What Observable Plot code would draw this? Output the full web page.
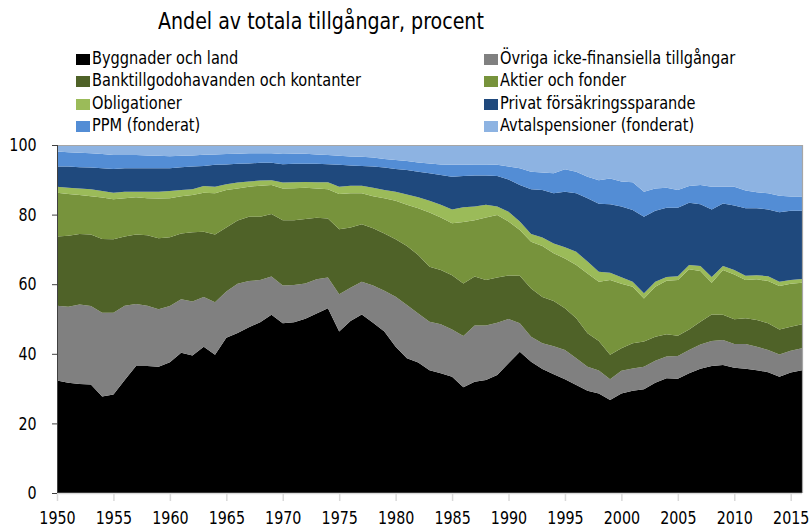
<!DOCTYPE html>
<html><head><meta charset="utf-8">
<script src="https://cdn.jsdelivr.net/npm/d3@7"></script>
<script src="https://cdn.jsdelivr.net/npm/@observablehq/plot@0.6"></script>
<style>
body{margin:0;background:#fff;width:811px;height:530px;overflow:hidden;position:relative;font-family:"Liberation Sans Narrow","DejaVu Sans Condensed","Roboto Condensed",sans-serif;}
#title{position:absolute;left:158px;top:8px;font-size:22.5px;color:#000;white-space:nowrap;transform:scaleX(0.94);transform-origin:left center;z-index:2;}
.leg{position:absolute;font-size:17.5px;white-space:nowrap;color:#000;line-height:20px;z-index:2;}
.leg .txt{display:inline-block;transform:scaleX(0.925);transform-origin:left center;}
.sw{display:inline-block;width:14px;height:11px;margin-right:2px;vertical-align:-1px;}
#chart{position:absolute;left:0;top:130px;z-index:1;}
</style></head><body>
<div id="title">Andel av totala tillgångar, procent</div>
<div id="legend"></div>
<div id="chart"></div>
<script>
const title = "Andel av totala tillgångar, procent";
const categories = [
  "Byggnader och land",
  "Övriga icke-finansiella tillgångar",
  "Banktillgodohavanden och kontanter",
  "Aktier och fonder",
  "Obligationer",
  "Privat försäkringssparande",
  "PPM (fonderat)",
  "Avtalspensioner (fonderat)"
];
const colors = ["#000000","#808080","#4f6228","#77933c","#9bbb59","#1f497d","#538dd5","#8db3e2"];
const years = d3.range(1950, 2017);
const xTicks = [1950,1955,1960,1965,1970,1975,1980,1985,1990,1995,2000,2005,2010,2015];
const yTicks = [0,20,40,60,80,100];

// Percent of total assets, 1950–2016
const byggnader = [32.3,31.7,31.3,31.2,27.7,28.3,32.5,36.5,36.5,36.3,37.6,40.3,39.5,42.0,39.7,44.6,46.0,47.6,49.1,51.2,48.8,49.1,50.1,51.6,53.1,46.4,49.4,51.3,48.9,46.4,42.0,38.7,37.5,35.3,34.4,33.4,30.4,32.0,32.5,33.9,37.3,40.6,37.7,35.6,34.1,32.7,31.0,29.4,28.6,26.7,28.6,29.4,29.8,31.7,33.0,32.8,34.4,35.7,36.5,36.8,36.0,35.7,35.3,34.7,33.4,34.6,35.3];
const ovriga = [21.5,21.8,22.9,22.5,24.1,23.5,21.3,17.8,17.3,16.5,16.1,15.4,15.5,14.3,15.1,13.3,14.1,13.3,12.1,11.0,10.8,10.7,10.1,9.8,8.8,10.7,9.6,9.4,10.7,11.7,14.4,15.3,14.1,13.9,14.1,13.6,14.7,16.1,15.6,15.0,12.7,8.2,7.2,7.4,8.1,8.4,7.7,6.9,6.6,6.0,6.5,6.4,6.5,6.3,6.2,6.6,6.7,7.0,7.2,7.2,6.8,7.1,6.7,6.4,6.4,6.3,6.3];
const bank = [19.9,20.4,20.2,20.6,21.2,21.1,19.9,20.0,20.3,20.4,19.8,18.9,19.9,18.8,19.5,18.4,18.2,18.5,18.2,18.0,18.8,18.6,18.5,17.7,17.0,18.7,17.3,16.5,16.5,16.5,16.5,17.0,16.8,15.8,15.6,15.6,15.1,14.1,13.1,13.0,12.5,13.6,13.9,13.3,13.0,12.0,11.5,9.6,8.5,7.0,6.5,7.2,7.2,6.9,6.4,5.8,5.9,6.5,7.6,7.2,7.1,7.4,7.7,7.7,7.2,6.9,6.9];
const aktier = [12.6,12.0,11.2,11.0,11.9,11.5,11.0,10.7,10.6,11.4,11.2,10.7,10.7,11.2,11.8,10.8,9.2,8.6,8.9,8.3,9.1,9.2,9.0,8.4,8.4,10.1,9.8,8.9,9.2,10.1,11.1,11.8,13.4,15.6,15.1,14.9,17.7,16.2,18.0,18.0,15.5,13.2,13.4,14.7,13.7,14.3,15.3,17.2,17.0,21.5,18.5,16.3,12.4,14.4,15.4,16.0,17.3,14.6,9.1,12.9,12.9,11.0,11.7,12.1,12.5,12.3,11.9];
const obligationer = [1.7,1.8,1.9,2.0,1.9,1.9,1.9,1.6,1.9,2.0,2.1,1.8,1.7,1.9,1.9,1.6,1.7,1.5,1.5,1.4,1.7,1.7,1.7,1.8,2.0,2.1,2.2,2.2,2.4,2.4,2.6,3.0,3.2,3.4,3.6,4.0,4.2,3.9,3.6,2.4,2.8,2.4,2.2,2.4,2.8,3.2,3.8,3.4,2.9,2.1,1.9,1.4,1.5,1.4,1.1,1.1,1.2,1.4,1.7,1.1,1.3,1.2,1.2,1.4,1.2,1.1,1.1];
const privat = [5.8,6.1,6.1,6.2,6.5,6.8,6.7,6.7,6.7,6.7,6.5,6.5,6.5,5.8,6.3,5.7,5.4,5.2,5.1,5.0,5.3,5.3,5.2,5.3,5.2,6.3,5.8,5.7,6.1,6.4,6.5,7.0,7.3,7.9,8.6,9.4,9.0,8.9,8.4,8.8,9.3,10.5,12.9,13.7,14.4,16.0,16.8,18.2,19.5,19.7,20.3,20.6,22.0,20.4,19.9,19.7,17.9,17.8,19.4,18.0,18.5,19.4,19.2,19.2,20.0,19.9,19.6];
const ppm = [4.3,4.1,4.2,4.1,4.1,4.0,3.8,3.8,3.7,3.6,3.5,3.3,3.2,3.2,3.0,3.0,2.9,2.9,2.7,2.7,2.9,2.9,2.9,2.7,2.6,2.6,2.6,2.6,2.6,2.5,2.6,2.6,2.7,2.8,3.0,3.4,3.2,3.2,3.2,3.2,3.7,4.8,5.0,5.0,5.8,6.4,6.2,6.2,6.8,7.4,7.2,8.0,7.2,6.4,5.7,5.1,4.8,5.5,6.5,4.8,5.4,5.1,4.6,4.6,4.7,4.1,4.1];
const avtal = [1.9,2.1,2.2,2.4,2.6,2.9,2.9,2.9,3.0,3.1,3.2,3.1,3.0,2.8,2.7,2.6,2.5,2.4,2.4,2.4,2.6,2.5,2.5,2.7,2.9,3.1,3.3,3.4,3.6,4.0,4.3,4.6,5.0,5.3,5.6,5.7,5.7,5.6,5.6,5.7,6.2,6.7,7.7,7.9,8.1,7.0,7.7,9.1,10.1,9.6,10.5,10.7,13.4,12.5,12.3,12.9,11.8,11.5,12.0,12.0,12.0,13.1,13.6,13.9,14.6,14.8,14.8];

const series = [byggnader, ovriga, bank, aktier, obligationer, privat, ppm, avtal];
const rows = [];
categories.forEach((cat, i) => {
  years.forEach((year, j) => rows.push({year, cat, value: series[i][j]}));
});

// Legend: two columns, four rows
const legend = document.getElementById("legend");
categories.forEach((cat, i) => {
  const col = i % 2, row = Math.floor(i / 2);
  const el = document.createElement("div");
  el.className = "leg";
  el.style.left = (col === 0 ? 76 : 484) + "px";
  el.style.top = (48 + row * 22.4) + "px";
  el.innerHTML = `<span class="sw" style="background:${colors[i]}"></span><span class="txt">${cat}</span>`;
  legend.appendChild(el);
});

const font = '"Liberation Sans Narrow","DejaVu Sans Condensed","Roboto Condensed",sans-serif';
const chart = Plot.plot({
  width: 811,
  height: 400,
  marginTop: 15,
  marginBottom: 37,
  marginLeft: 57,
  marginRight: 9,
  x: {domain: [1950, 2016]},
  y: {domain: [0, 100]},
  color: {domain: categories, range: colors},
  style: {fontFamily: font, fontSize: "18px", color: "#000", background: "transparent", overflow: "visible"},
  marks: [
    Plot.areaY(rows, {x: "year", y: "value", fill: "cat", order: categories}),
    Plot.ruleY([100], {stroke: "#a6a6a6", strokeWidth: 1.2}),
    Plot.ruleX([2016], {stroke: "#a6a6a6", strokeWidth: 1.2}),
    Plot.ruleY([0], {stroke: "#d9d9d9", strokeWidth: 1.5}),
    Plot.axisX({ticks: xTicks, tickFormat: d => String(d), tickSize: 8, tickPadding: 10, stroke: "#d9d9d9", strokeWidth: 1.5, fill: "#000", label: null, ariaLabel: "x-axis"}),
    Plot.axisY({ticks: yTicks, tickSize: 5, tickPadding: 16, stroke: "#404040", fill: "#000", label: null, ariaLabel: "y-axis"}),
    Plot.ruleX([1950], {stroke: "#404040"})
  ]
});
document.getElementById("chart").appendChild(chart);
// narrow the tick labels to mimic the condensed face of the original
chart.querySelectorAll('g[aria-label$="tick label"] text').forEach(t => {
  const w = t.getComputedTextLength();
  t.setAttribute("textLength", (w * 0.88).toFixed(1));
  t.setAttribute("lengthAdjust", "spacingAndGlyphs");
});
</script>
</body></html>
